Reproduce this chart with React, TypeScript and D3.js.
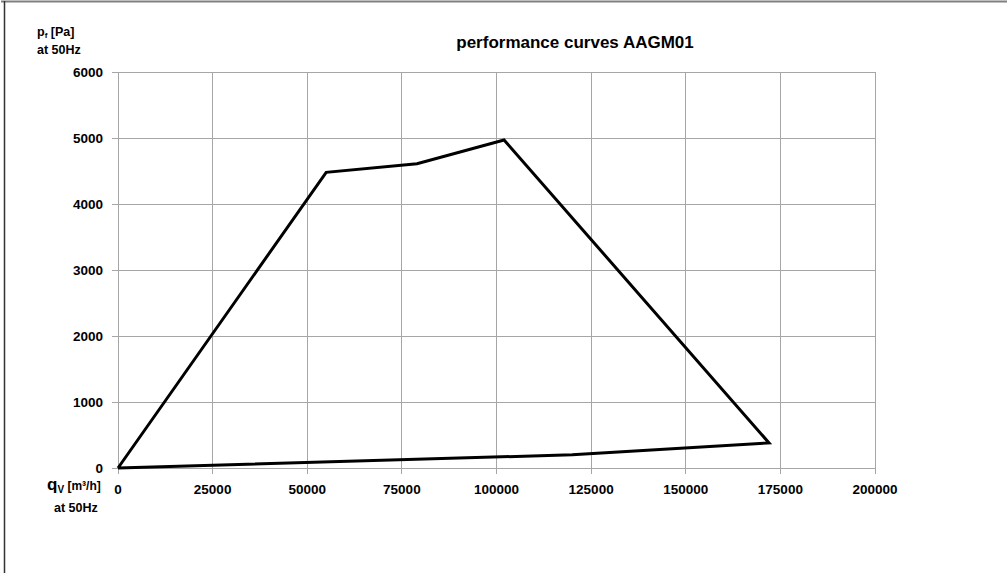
import { useEffect, useRef } from "react";
import * as d3 from "d3";

// performance curve envelope (closed polygon)
const flowValues = [0, 55000, 79000, 102000, 172000, 120000, 0];
const pressureValues = [0, 4480, 4610, 4970, 380, 200, 0];

const xTicks = [0, 25000, 50000, 75000, 100000, 125000, 150000, 175000, 200000];
const yTicks = [0, 1000, 2000, 3000, 4000, 5000, 6000];

const title = "performance curves AAGM01";

export default function App() {
  const svgRef = useRef<SVGSVGElement>(null);

  useEffect(() => {
    const width = 1007;
    const height = 573;
    const margin = { top: 72, left: 118, right: 132, bottom: 105 };

    const svg = d3.select(svgRef.current);
    svg.selectAll("*").remove();
    svg.attr("width", width).attr("height", height);

    svg
      .append("rect")
      .attr("width", width)
      .attr("height", height)
      .attr("fill", "#fff");

    // outer frame (cropped on the right/bottom)
    svg
      .append("line")
      .attr("x1", 1)
      .attr("x2", width)
      .attr("y1", 1.5)
      .attr("y2", 1.5)
      .attr("stroke", "#808080")
      .attr("stroke-width", 2);
    svg
      .append("line")
      .attr("x1", 4.5)
      .attr("x2", 4.5)
      .attr("y1", 1)
      .attr("y2", height)
      .attr("stroke", "#333")
      .attr("stroke-width", 1.5);

    const x = d3
      .scaleLinear()
      .domain([0, 200000])
      .range([margin.left, width - margin.right]);
    const y = d3
      .scaleLinear()
      .domain([0, 6000])
      .range([height - margin.bottom, margin.top]);

    const grid = svg.append("g").attr("shape-rendering", "crispEdges");

    // vertical gridlines + ticks
    grid
      .selectAll("line.vx")
      .data(xTicks)
      .enter()
      .append("line")
      .attr("x1", (d) => x(d))
      .attr("x2", (d) => x(d))
      .attr("y1", y(6000))
      .attr("y2", y(0) + 6)
      .attr("stroke", "#a6a6a6")
      .attr("stroke-width", 1);

    // horizontal gridlines + ticks
    grid
      .selectAll("line.hy")
      .data(yTicks)
      .enter()
      .append("line")
      .attr("x1", x(0) - 6)
      .attr("x2", x(200000))
      .attr("y1", (d) => y(d))
      .attr("y2", (d) => y(d))
      .attr("stroke", "#a6a6a6")
      .attr("stroke-width", 1);

    const fontFamily = "'Liberation Sans', Arial, sans-serif";

    // x tick labels
    svg
      .selectAll("text.xt")
      .data(xTicks)
      .enter()
      .append("text")
      .attr("x", (d) => x(d))
      .attr("y", y(0) + 26)
      .attr("text-anchor", "middle")
      .attr("font-family", fontFamily)
      .attr("font-weight", "bold")
      .attr("font-size", 13.5)
      .text((d) => String(d));

    // y tick labels
    svg
      .selectAll("text.yt")
      .data(yTicks)
      .enter()
      .append("text")
      .attr("x", x(0) - 15)
      .attr("y", (d) => y(d) + 5)
      .attr("text-anchor", "end")
      .attr("font-family", fontFamily)
      .attr("font-weight", "bold")
      .attr("font-size", 13.5)
      .text((d) => String(d));

    // curve
    const line = d3
      .line<number>()
      .x((_, i) => x(flowValues[i]))
      .y((d) => y(d));

    svg
      .append("path")
      .datum(pressureValues)
      .attr("d", line)
      .attr("fill", "none")
      .attr("stroke", "#000")
      .attr("stroke-width", 3)
      .attr("stroke-linejoin", "miter");

    // title
    svg
      .append("text")
      .attr("x", 575)
      .attr("y", 48)
      .attr("text-anchor", "middle")
      .attr("font-family", fontFamily)
      .attr("font-weight", "bold")
      .attr("font-size", 17)
      .text(title);

    // y axis label
    const yl = svg
      .append("text")
      .attr("font-family", fontFamily)
      .attr("font-weight", "bold")
      .attr("font-size", 12.5);
    const yl1 = yl.append("tspan").attr("x", 37).attr("y", 36);
    yl1.append("tspan").text("p");
    yl1.append("tspan").attr("font-size", 8).attr("dy", 2).text("f");
    yl1.append("tspan").attr("dy", -2).text(" [Pa]");
    yl.append("tspan").attr("x", 37).attr("y", 54).text("at 50Hz");

    // x axis label
    const xl = svg
      .append("text")
      .attr("font-family", fontFamily)
      .attr("font-weight", "bold");
    const xl1 = xl.append("tspan").attr("x", 47).attr("y", 490);
    xl1.append("tspan").attr("font-size", 17).text("q");
    xl1.append("tspan").attr("font-size", 10).attr("dy", 3).text("V");
    xl1.append("tspan").attr("font-size", 12).attr("dy", -3).text(" [m³/h]");
    xl.append("tspan")
      .attr("x", 54)
      .attr("y", 512)
      .attr("font-size", 12.5)
      .text("at 50Hz");
  }, []);

  return (
    <svg
      ref={svgRef}
      style={{ position: "absolute", left: 0, top: 0, display: "block" }}
    />
  );
}
